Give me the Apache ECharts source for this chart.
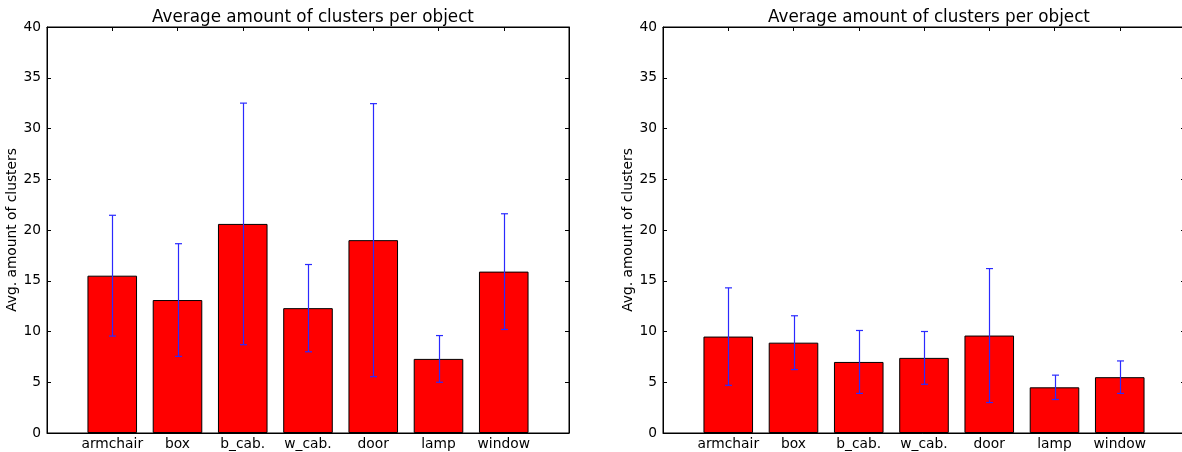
<!DOCTYPE html>
<html>
<head>
<meta charset="utf-8">
<script src="https://cdn.jsdelivr.net/npm/echarts@6/dist/echarts.min.js"></script>
<style>
html,body{margin:0;padding:0;background:#fff;}
#chart{width:1182px;height:452px;}
</style>
</head>
<body>
<div id="chart"></div>
<script>
// ---- data ----
const categories = ['armchair', 'box', 'b_cab.', 'w_cab.', 'door', 'lamp', 'window'];
const leftMeans  = [15.5, 13.1, 20.6, 12.3, 19.0, 7.3, 15.9];
const leftStd    = [5.95, 5.55, 11.9, 4.3, 13.45, 2.3, 5.7];
const rightMeans = [9.5, 8.9, 7.0, 7.4, 9.6, 4.5, 5.5];
const rightStd   = [4.8, 2.65, 3.1, 2.6, 6.6, 1.2, 1.6];
const chartTitle = 'Average amount of clusters per object';
const yName = 'Avg. amount of clusters';

// ---- layout ----
const FONT = 'DejaVu Sans';
const gridW = 522, gridH = 406, gridTop = 27;
const gridLefts = [47, 663];
const barW = 0.76 * gridW / 8;

const chart = echarts.init(document.getElementById('chart'), null, {renderer: 'canvas'});

const grids = [], xAxes = [], yAxes = [], series = [], titles = [];
const datasets = [[leftMeans, leftStd], [rightMeans, rightStd]];

gridLefts.forEach((gl, gi) => {
  grids.push({left: gl, top: gridTop, width: gridW, height: gridH, show: true,
    outerBoundsMode: 'none', containLabel: false,
    borderColor: '#000', borderWidth: 1, backgroundColor: 'transparent'});
  const xBase = {
    type: 'value', gridIndex: gi, min: -1, max: 7, interval: 1,
    splitLine: {show: false},
    axisLine: {show: true, onZero: false, lineStyle: {color: '#000', width: 1}},
    axisTick: {show: true, inside: true, length: 4, lineStyle: {color: '#000'}}
  };
  xAxes.push(Object.assign({}, xBase, {
    position: 'bottom',
    axisLabel: {show: true, margin: 4, color: '#000', fontFamily: FONT, fontSize: 13.8,
      formatter: v => (categories[v] !== undefined ? categories[v] : '')}
  }));
  xAxes.push(Object.assign({}, xBase, {position: 'top', axisLabel: {show: false}}));
  const yBase = {
    type: 'value', gridIndex: gi, min: 0, max: 40, interval: 5,
    splitLine: {show: false},
    axisLine: {show: true, onZero: false, lineStyle: {color: '#000', width: 1}},
    axisTick: {show: true, inside: true, length: 4, lineStyle: {color: '#000'}}
  };
  yAxes.push(Object.assign({}, yBase, {
    position: 'left',
    name: yName, nameLocation: 'middle', nameGap: 28, nameRotate: 90,
    nameTextStyle: {color: '#000', fontFamily: FONT, fontSize: 13.8},
    axisLabel: {show: true, margin: 6, color: '#000', fontFamily: FONT, fontSize: 13.8}
  }));
  yAxes.push(Object.assign({}, yBase, {position: 'right', axisLabel: {show: false}}));

  const [means, std] = datasets[gi];
  series.push({
    type: 'bar', xAxisIndex: gi * 2, yAxisIndex: gi * 2,
    barWidth: barW,
    itemStyle: {color: '#ff0000', borderColor: '#000', borderWidth: 1},
    data: means.map((m, i) => [i, m]),
    z: 2, animation: false
  });
  series.push({
    type: 'custom', xAxisIndex: gi * 2, yAxisIndex: gi * 2,
    data: means.map((m, i) => [i, m - std[i], m + std[i]]),
    renderItem: (params, api) => {
      const x = api.value(0);
      const lo = api.coord([x, api.value(1)]);
      const hi = api.coord([x, api.value(2)]);
      const cx = Math.round(lo[0]) + 0.5;
      const cap = 3.5;
      const st = {stroke: '#2a2aff', lineWidth: 1.2};
      return {type: 'group', children: [
        {type: 'line', shape: {x1: cx, y1: lo[1], x2: cx, y2: hi[1]}, style: st},
        {type: 'line', shape: {x1: cx - cap, y1: lo[1], x2: cx + cap, y2: lo[1]}, style: st},
        {type: 'line', shape: {x1: cx - cap, y1: hi[1], x2: cx + cap, y2: hi[1]}, style: st}
      ]};
    },
    z: 5, animation: false
  });
  titles.push({text: chartTitle, left: gl + gridW / 2, top: 4, textAlign: 'center',
    textStyle: {color: '#000', fontFamily: FONT, fontSize: 16.8, fontWeight: 'normal'}});
});

chart.setOption({
  animation: false,
  backgroundColor: '#fff',
  title: titles,
  grid: grids,
  xAxis: xAxes,
  yAxis: yAxes,
  series: series
});
</script>
</body>
</html>
